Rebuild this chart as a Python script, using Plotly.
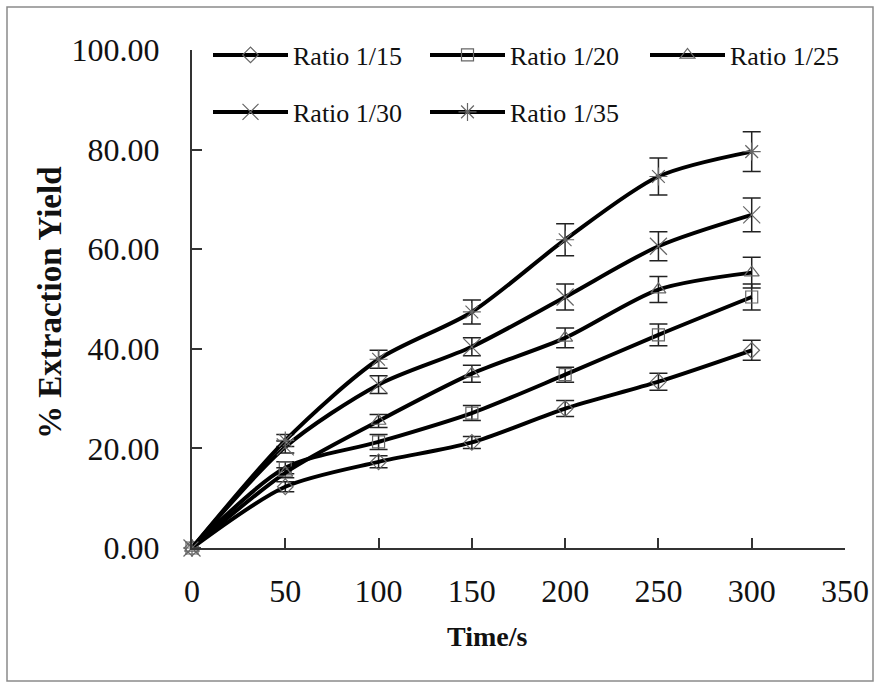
import plotly.graph_objects as go

time_s = [0, 50, 100, 150, 200, 250, 300]
names = ["Ratio 1/15", "Ratio 1/20", "Ratio 1/25", "Ratio 1/30", "Ratio 1/35"]
r15 = [0, 12.3, 17.3, 21.2, 28.0, 33.4, 39.7]
r20 = [0, 16.1, 21.3, 27.1, 34.8, 42.8, 50.4]
r25 = [0, 15.1, 25.5, 35.0, 42.2, 51.9, 55.3]
r30 = [0, 20.3, 32.8, 40.4, 50.4, 60.6, 66.9]
r35 = [0, 21.6, 37.9, 47.4, 61.9, 74.6, 79.6]
e15 = [0, 1.0, 1.2, 1.2, 1.6, 1.7, 2.0]
e20 = [0, 1.2, 1.5, 1.5, 1.5, 2.2, 2.6]
e25 = [0, 1.0, 1.3, 1.7, 2.0, 2.6, 3.1]
e30 = [0, 1.2, 1.8, 1.8, 2.6, 2.9, 3.4]
e35 = [0, 1.2, 1.8, 2.4, 3.2, 3.7, 4.0]
series = [r15, r20, r25, r30, r35]
errors = [e15, e20, e25, e30, e35]
symbols = ["diamond-open", "square-open", "triangle-up-open", "x-thin-open", "asterisk-open"]
msizes = [12, 12, 13, 17, 15]

FONT = "Liberation Serif, Times New Roman, serif"
L, R, T, B = 192, 35, 50, 140
W, H = 880, 688
PW, PH = W - L - R, H - T - B


def px_x(p):
    return (p - L) / PW


def px_y(p):
    return 1 - (p - T) / PH


# legend slot per series: (left pixel of legend text, vertical center pixel)
leg_slots = [(293, 55), (510, 55), (730, 55), (293, 112), (510, 112)]
ITEMW = 75
leg_ids = ["legend", "legend2", "legend3", "legend4", "legend5"]

fig = go.Figure()
for i, (nm, ys, es, sym, ms) in enumerate(zip(names, series, errors, symbols, msizes)):
    fig.add_trace(go.Scatter(
        x=time_s, y=ys, name=nm, mode="lines+markers",
        legend=leg_ids[i],
        line=dict(color="black", width=4, shape="spline", smoothing=0.8),
        marker=dict(symbol=sym, size=ms, color="#666",
                    line=dict(color="#666", width=1.2)),
        error_y=dict(type="data", array=es, visible=True, color="#222",
                     thickness=1.5, width=9),
        cliponaxis=False,
    ))

axis_common = dict(showline=True, linecolor="#333", linewidth=2, showgrid=False,
                   zeroline=False, ticks="inside", ticklen=10, tickwidth=1.5,
                   tickcolor="#333", tickfont=dict(family=FONT, size=32, color="#111"))

fig.update_xaxes(range=[0, 350], dtick=50, tick0=0, ticklabelstandoff=14, **axis_common)
fig.update_yaxes(range=[0, 100], dtick=20, tick0=0, tickformat=".2f",
                 ticklabelstandoff=24, **axis_common)

leg_layout = {}
for lid, (tx, ty) in zip(leg_ids, leg_slots):
    leg_layout[lid] = dict(
        orientation="h", bgcolor="rgba(0,0,0,0)", borderwidth=0,
        font=dict(family=FONT, size=26, color="#111"), itemwidth=ITEMW,
        x=px_x(tx - ITEMW - 10), y=px_y(ty), xanchor="left", yanchor="middle",
        itemclick=False)

fig.update_layout(
    width=W, height=H,
    margin=dict(l=L, r=R, t=T, b=B),
    paper_bgcolor="white", plot_bgcolor="white",
    font=dict(family=FONT, color="#111"),
    showlegend=True,
    annotations=[
        dict(text="<b>Time/s</b>", x=px_x(487), y=px_y(636), xref="paper", yref="paper",
             showarrow=False, font=dict(family=FONT, size=28, color="#111"),
             xanchor="center", yanchor="middle"),
        dict(text="<b>% Extraction Yield</b>", x=px_x(50), y=px_y(303), xref="paper",
             yref="paper", showarrow=False, textangle=-90,
             font=dict(family=FONT, size=33, color="#111"),
             xanchor="center", yanchor="middle"),
    ],
    shapes=[dict(type="rect", xref="paper", yref="paper",
                 x0=px_x(7), x1=px_x(873), y0=px_y(681), y1=px_y(7),
                 line=dict(color="#8a8a8a", width=1.5), layer="below")],
    **leg_layout,
)

fig.write_html("out.html")
